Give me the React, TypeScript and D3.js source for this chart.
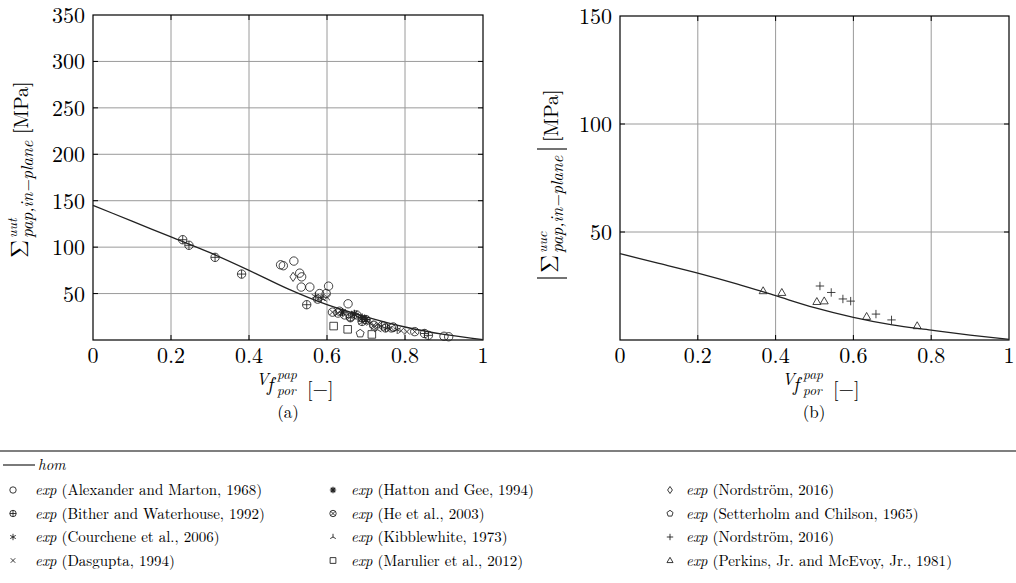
import * as d3 from "d3";

// ---- data ----
const xTicks = [0, 0.2, 0.4, 0.6, 0.8, 1];
const xTickLabels = ["0", "0.2", "0.4", "0.6", "0.8", "1"];
const yTicksA = [50, 100, 150, 200, 250, 300, 350];
const yTicksB = [50, 100, 150];

const homV = [0, 0.1, 0.2, 0.3, 0.4, 0.5, 0.6, 0.7, 0.8, 0.9, 1];
const homA = [145, 128, 111, 94, 75, 55, 38, 25, 14, 6, 0.5];
const homB = [40, 35.5, 31, 26, 20.5, 15, 10.5, 7, 4.6, 2.3, 0.3];

const alexander = [[0.481, 81], [0.488, 80], [0.515, 85], [0.53, 72], [0.535, 68], [0.534, 57], [0.556, 57], [0.604, 58], [0.581, 50], [0.598, 50], [0.654, 39], [0.632, 31], [0.676, 27], [0.7, 22], [0.745, 15], [0.77, 14], [0.9, 4], [0.912, 3.5]];
const bither = [[0.23, 108], [0.246, 102], [0.313, 89], [0.381, 71], [0.548, 38], [0.66, 24], [0.69, 20], [0.75, 13], [0.85, 7], [0.86, 5]];
const courchene = [[0.57, 47], [0.585, 45], [0.68, 25], [0.71, 18], [0.74, 15], [0.78, 11]];
const dasgupta = [[0.6, 46], [0.72, 14], [0.73, 17], [0.76, 12], [0.79, 10], [0.805, 9]];
const hatton = [[0.64, 30], [0.67, 28], [0.69, 24], [0.7, 22]];
const he = [[0.576, 44], [0.614, 30], [0.628, 29], [0.645, 27], [0.66, 25], [0.72, 16], [0.765, 13], [0.825, 9]];
const kibble = [[0.59, 44], [0.69, 19], [0.73, 11], [0.755, 13]];
const marulier = [[0.617, 15], [0.653, 11.5], [0.715, 6]];
const nordDiamond = [[0.513, 68]];
const setterholm = [[0.685, 7]];
const nordPlus = [[0.514, 25], [0.543, 22], [0.573, 19], [0.593, 18], [0.658, 12], [0.698, 9.3]];
const perkins = [[0.368, 22.7], [0.416, 21.9], [0.506, 17.7], [0.525, 18], [0.634, 10.8], [0.764, 6.5]];

const legendCols = [
  [["circle", "Alexander and Marton, 1968"], ["oplus", "Bither and Waterhouse, 1992"], ["asterisk", "Courchene et al., 2006"], ["times", "Dasgupta, 1994"]],
  [["star8", "Hatton and Gee, 1994"], ["otimes", "He et al., 2003"], ["tri", "Kibblewhite, 1973"], ["square", "Marulier et al., 2012"]],
  [["diamond", "Nordström, 2016"], ["pentagon", "Setterholm and Chilson, 1965"], ["plus", "Nordström, 2016"], ["triangle", "Perkins, Jr. and McEvoy, Jr., 1981"]],
];

const FONT = { fontFamily: '"Latin Modern Roman"' };
const INK = "#222";

function marker(type: string, r: number): string {
  const p = d3.path();
  const line = (x1: number, y1: number, x2: number, y2: number) => { p.moveTo(x1, y1); p.lineTo(x2, y2); };
  const circ = (rr: number) => { p.moveTo(rr, 0); p.arc(0, 0, rr, 0, 2 * Math.PI); };
  const poly = (pts: number[][]) => { pts.forEach((q, i) => (i ? p.lineTo(q[0], q[1]) : p.moveTo(q[0], q[1]))); p.closePath(); };
  const k = r * 0.707;
  switch (type) {
    case "circle": circ(r); break;
    case "oplus": circ(r); line(-r, 0, r, 0); line(0, -r, 0, r); break;
    case "otimes": circ(r); line(-k, -k, k, k); line(-k, k, k, -k); break;
    case "asterisk":
      for (let a = 0; a < 3; a++) { const t = Math.PI / 2 + (a * Math.PI) / 3; line(r * Math.cos(t), r * Math.sin(t), -r * Math.cos(t), -r * Math.sin(t)); }
      break;
    case "star8":
      for (let a = 0; a < 4; a++) { const t = (a * Math.PI) / 4; line(r * Math.cos(t), r * Math.sin(t), -r * Math.cos(t), -r * Math.sin(t)); }
      break;
    case "times": line(-k, -k, k, k); line(-k, k, k, -k); break;
    case "plus": line(-r, 0, r, 0); line(0, -r, 0, r); break;
    case "tri": line(0, 0, 0, -r); line(0, 0, -r * 0.87, r * 0.5); line(0, 0, r * 0.87, r * 0.5); break;
    case "square": poly([[-r, -r], [r, -r], [r, r], [-r, r]].map(q => [q[0] * 0.9, q[1] * 0.9])); break;
    case "diamond": poly([[0, -r * 1.1], [r * 0.75, 0], [0, r * 1.1], [-r * 0.75, 0]]); break;
    case "pentagon": poly(d3.range(5).map(i => { const t = -Math.PI / 2 + (i * 2 * Math.PI) / 5; return [r * Math.cos(t), r * Math.sin(t)]; })); break;
    case "triangle": poly([[0, -r], [r * 0.95, r * 0.65], [-r * 0.95, r * 0.65]]); break;
  }
  return p.toString();
}

type Pt = number[];

function Marks({ pts, type, x, y, r = 4.2 }: { pts: Pt[]; type: string; x: any; y: any; r?: number }) {
  const d = marker(type, r);
  return (
    <g fill="none" stroke={INK} strokeWidth={type === "star8" ? 1.3 : 0.85}>
      {pts.map((q, i) => <path key={i} d={d} transform={`translate(${x(q[0])},${y(q[1])})`} />)}
    </g>
  );
}

function Frame({ x, y, yTicks }: { x: any; y: any; yTicks: number[] }) {
  const [x0, x1] = x.range();
  const [yb, yt] = y.range();
  return (
    <g>
      {xTicks.slice(1, -1).map(t => (
        <g key={"gx" + t}>
          <line x1={x(t)} x2={x(t)} y1={yt} y2={yb} stroke="#9a9a9a" strokeWidth={1} />
          <line x1={x(t)} x2={x(t)} y1={yb} y2={yb - 5} stroke="#000" strokeWidth={1} />
          <line x1={x(t)} x2={x(t)} y1={yt} y2={yt + 5} stroke="#000" strokeWidth={1} />
        </g>
      ))}
      {yTicks.filter(t => y(t) > yt + 1).map(t => (
        <g key={"gy" + t}>
          <line x1={x0} x2={x1} y1={y(t)} y2={y(t)} stroke="#9a9a9a" strokeWidth={1} />
          <line x1={x0} x2={x0 + 5} y1={y(t)} y2={y(t)} stroke="#000" strokeWidth={1} />
          <line x1={x1} x2={x1 - 5} y1={y(t)} y2={y(t)} stroke="#000" strokeWidth={1} />
        </g>
      ))}
      <rect x={x0} y={yt} width={x1 - x0} height={yb - yt} fill="none" stroke="#000" strokeWidth={1.2} />
      <g style={FONT} fontSize={22} fill="#000">
        {xTicks.map((t, i) => (
          <text key={"tx" + t} x={x(t)} y={yb + 23} textAnchor="middle">{xTickLabels[i]}</text>
        ))}
        {yTicks.map(t => (
          <text key={"ty" + t} x={x0 - 8} y={y(t) + 8} textAnchor="end">{t}</text>
        ))}
      </g>
    </g>
  );
}

function XLabel({ cx }: { cx: number }) {
  const x0 = cx - 32;
  return (
    <g style={FONT} fill="#000">
      <text x={x0} y={385} fontSize={17} fontStyle="italic">V</text>
      <text x={x0 + 11} y={391} fontSize={20} fontStyle="italic">f</text>
      <text x={x0 + 21} y={379} fontSize={13.5} fontStyle="italic">pap</text>
      <text x={x0 + 21} y={395} fontSize={13.5} fontStyle="italic">por</text>
      <text x={x0 + 51} y={396} fontSize={20}>[−]</text>
    </g>
  );
}

export default function App() {
  const W = 1016, H = 583;
  const xA = d3.scaleLinear([0, 1], [93, 483]);
  const yA = d3.scaleLinear([0, 350], [340, 15]);
  const xB = d3.scaleLinear([0, 1], [620, 1009]);
  const yB = d3.scaleLinear([0, 150], [340, 16]);

  const lineA = d3.line<number>().x((_, i) => xA(homV[i])).y(s => yA(s)).curve(d3.curveMonotoneX);
  const lineB = d3.line<number>().x((_, i) => xB(homV[i])).y(s => yB(s)).curve(d3.curveMonotoneX);

  const rowY = [490, 513.5, 537, 560.5];
  const colX = [[13, 35], [333, 351], [670, 686]];

  return (
    <svg width={W} height={H} style={{ position: "absolute", left: 0, top: 0, background: "#fff" }}>
      <rect width={W} height={H} fill="#fff" />
      {/* (a) */}
      <Frame x={xA} y={yA} yTicks={yTicksA} />
      <path d={lineA(homA) || ""} fill="none" stroke={INK} strokeWidth={1.3} />
      <Marks pts={alexander} type="circle" x={xA} y={yA} />
      <Marks pts={bither} type="oplus" x={xA} y={yA} />
      <Marks pts={courchene} type="asterisk" x={xA} y={yA} />
      <Marks pts={dasgupta} type="times" x={xA} y={yA} />
      <Marks pts={hatton} type="star8" x={xA} y={yA} />
      <Marks pts={he} type="otimes" x={xA} y={yA} />
      <Marks pts={kibble} type="tri" x={xA} y={yA} />
      <Marks pts={marulier} type="square" x={xA} y={yA} />
      <Marks pts={nordDiamond} type="diamond" x={xA} y={yA} />
      <Marks pts={setterholm} type="pentagon" x={xA} y={yA} />
      <XLabel cx={288} />
      <text x={288} y={418} textAnchor="middle" style={FONT} fontSize={17}>(a)</text>
      <g transform="translate(28,258) rotate(-90)" style={FONT} fill="#000">
        <text x={0} y={0} fontSize={25}>Σ</text>
        <text x={20} y={-11} fontSize={14} fontStyle="italic">uut</text>
        <text x={20} y={5} fontSize={17} fontStyle="italic">pap,in−plane</text>
        <text x={124} y={0} fontSize={20}>[MPa]</text>
      </g>

      {/* (b) */}
      <Frame x={xB} y={yB} yTicks={yTicksB} />
      <path d={lineB(homB) || ""} fill="none" stroke={INK} strokeWidth={1.3} />
      <Marks pts={perkins} type="triangle" x={xB} y={yB} />
      <Marks pts={nordPlus} type="plus" x={xB} y={yB} />
      <XLabel cx={814} />
      <text x={814} y={418} textAnchor="middle" style={FONT} fontSize={17}>(b)</text>
      <g transform="translate(558,278) rotate(-90)" style={FONT} fill="#000">
        <line x1={0} x2={0} y1={-21} y2={9} stroke="#000" strokeWidth={1.1} />
        <text x={5} y={0} fontSize={25}>Σ</text>
        <text x={25} y={-11} fontSize={14} fontStyle="italic">uuc</text>
        <text x={25} y={5} fontSize={17} fontStyle="italic">pap,in−plane</text>
        <line x1={129} x2={129} y1={-21} y2={9} stroke="#000" strokeWidth={1.1} />
        <text x={136} y={0} fontSize={20}>[MPa]</text>
      </g>

      {/* legend */}
      <line x1={0} x2={W} y1={451} y2={451} stroke="#000" strokeWidth={1.2} />
      <line x1={3} x2={35} y1={465} y2={465} stroke={INK} strokeWidth={1.2} />
      <text x={38} y={470} style={FONT} fontSize={15} fontStyle="italic">hom</text>
      {legendCols.map((col, ci) => col.map(([type, label], ri) => (
        <g key={ci + "-" + ri}>
          <path d={marker(type, 3.2)} transform={`translate(${colX[ci][0]},${rowY[ri]})`} fill="none" stroke={INK} strokeWidth={type === "star8" ? 1.2 : 0.9} />
          <text x={colX[ci][1]} y={rowY[ri] + 5} style={FONT} fontSize={15}>
            <tspan fontStyle="italic">exp</tspan> ({label})
          </text>
        </g>
      )))}
    </svg>
  );
}
